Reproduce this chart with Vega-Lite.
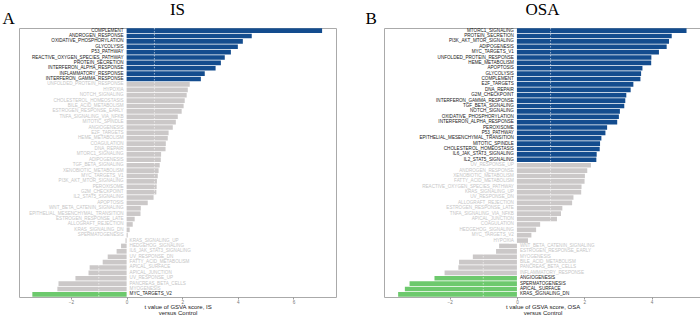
{
  "$schema": "https://vega.github.io/schema/vega-lite/v6.json",
  "padding": {"left": 2, "top": 0, "right": 0, "bottom": 0},
  "background": "white",
  "spacing": 28,
  "config": {
    "font": "Liberation Sans",
    "view": {"stroke": "#aaaaaa", "strokeWidth": 1},
    "title": {"font": "Liberation Serif", "fontSize": 17, "fontWeight": "normal", "color": "black", "offset": 8.5}
  },
  "datasets": {
    "IS": [
      {"name": "COMPLEMENT", "t": 7.03, "sig": "up"},
      {"name": "ANDROGEN_RESPONSE", "t": 4.5, "sig": "up"},
      {"name": "OXIDATIVE_PHOSPHORYLATION", "t": 4.18, "sig": "up"},
      {"name": "GLYCOLYSIS", "t": 4.0, "sig": "up"},
      {"name": "P53_PATHWAY", "t": 3.75, "sig": "up"},
      {"name": "REACTIVE_OXYGEN_SPECIES_PATHWAY", "t": 3.53, "sig": "up"},
      {"name": "PROTEIN_SECRETION", "t": 3.39, "sig": "up"},
      {"name": "INTERFERON_ALPHA_RESPONSE", "t": 3.2, "sig": "up"},
      {"name": "INFLAMMATORY_RESPONSE", "t": 2.81, "sig": "up"},
      {"name": "INTERFERON_GAMMA_RESPONSE", "t": 2.67, "sig": "up"},
      {"name": "UNFOLDED_PROTEIN_RESPONSE", "t": 2.27, "sig": "ns"},
      {"name": "HYPOXIA", "t": 2.2, "sig": "ns"},
      {"name": "NOTCH_SIGNALING", "t": 2.16, "sig": "ns"},
      {"name": "CHOLESTEROL_HOMEOSTASIS", "t": 2.09, "sig": "ns"},
      {"name": "BILE_ACID_METABOLISM", "t": 2.05, "sig": "ns"},
      {"name": "ESTROGEN_RESPONSE_EARLY", "t": 1.98, "sig": "ns"},
      {"name": "TNFA_SIGNALING_VIA_NFKB", "t": 1.84, "sig": "ns"},
      {"name": "MITOTIC_SPINDLE", "t": 1.77, "sig": "ns"},
      {"name": "ANGIOGENESIS", "t": 1.66, "sig": "ns"},
      {"name": "E2F_TARGETS", "t": 1.51, "sig": "ns"},
      {"name": "HEME_METABOLISM", "t": 1.48, "sig": "ns"},
      {"name": "COAGULATION", "t": 1.41, "sig": "ns"},
      {"name": "DNA_REPAIR", "t": 1.4, "sig": "ns"},
      {"name": "MTORC1_SIGNALING", "t": 1.24, "sig": "ns"},
      {"name": "ADIPOGENESIS", "t": 1.23, "sig": "ns"},
      {"name": "TGF_BETA_SIGNALING", "t": 1.19, "sig": "ns"},
      {"name": "XENOBIOTIC_METABOLISM", "t": 1.15, "sig": "ns"},
      {"name": "MYC_TARGETS_V1", "t": 1.12, "sig": "ns"},
      {"name": "PI3K_AKT_MTOR_SIGNALING", "t": 1.09, "sig": "ns"},
      {"name": "PEROXISOME", "t": 1.08, "sig": "ns"},
      {"name": "G2M_CHECKPOINT", "t": 1.07, "sig": "ns"},
      {"name": "IL2_STAT5_SIGNALING", "t": 0.97, "sig": "ns"},
      {"name": "APOPTOSIS", "t": 0.76, "sig": "ns"},
      {"name": "WNT_BETA_CATENIN_SIGNALING", "t": 0.51, "sig": "ns"},
      {"name": "EPITHELIAL_MESENCHYMAL_TRANSITION", "t": 0.5, "sig": "ns"},
      {"name": "ESTROGEN_RESPONSE_LATE", "t": 0.29, "sig": "ns"},
      {"name": "ALLOGRAFT_REJECTION", "t": 0.22, "sig": "ns"},
      {"name": "KRAS_SIGNALING_DN", "t": 0.11, "sig": "ns"},
      {"name": "SPERMATOGENESIS", "t": 0.04, "sig": "ns"},
      {"name": "KRAS_SIGNALING_UP", "t": -0.04, "sig": "ns"},
      {"name": "HEDGEHOG_SIGNALING", "t": -0.2, "sig": "ns"},
      {"name": "IL6_JAK_STAT3_SIGNALING", "t": -0.36, "sig": "ns"},
      {"name": "UV_RESPONSE_DN", "t": -0.68, "sig": "ns"},
      {"name": "FATTY_ACID_METABOLISM", "t": -0.86, "sig": "ns"},
      {"name": "APICAL_SURFACE", "t": -1.33, "sig": "ns"},
      {"name": "APICAL_JUNCTION", "t": -1.37, "sig": "ns"},
      {"name": "UV_RESPONSE_UP", "t": -1.84, "sig": "ns"},
      {"name": "PANCREAS_BETA_CELLS", "t": -2.45, "sig": "ns"},
      {"name": "MYOGENESIS", "t": -2.49, "sig": "ns"},
      {"name": "MYC_TARGETS_V2", "t": -3.39, "sig": "down"}
    ],
    "OSA": [
      {"name": "MTORC1_SIGNALING", "t": 5.04, "sig": "up"},
      {"name": "PROTEIN_SECRETION", "t": 4.6, "sig": "up"},
      {"name": "PI3K_AKT_MTOR_SIGNALING", "t": 4.52, "sig": "up"},
      {"name": "ADIPOGENESIS", "t": 4.45, "sig": "up"},
      {"name": "MYC_TARGETS_V1", "t": 4.22, "sig": "up"},
      {"name": "UNFOLDED_PROTEIN_RESPONSE", "t": 3.995, "sig": "up"},
      {"name": "HEME_METABOLISM", "t": 3.99, "sig": "up"},
      {"name": "APOPTOSIS", "t": 3.73, "sig": "up"},
      {"name": "GLYCOLYSIS", "t": 3.69, "sig": "up"},
      {"name": "COMPLEMENT", "t": 3.67, "sig": "up"},
      {"name": "E2F_TARGETS", "t": 3.46, "sig": "up"},
      {"name": "DNA_REPAIR", "t": 3.38, "sig": "up"},
      {"name": "G2M_CHECKPOINT", "t": 3.25, "sig": "up"},
      {"name": "INTERFERON_GAMMA_RESPONSE", "t": 3.22, "sig": "up"},
      {"name": "TGF_BETA_SIGNALING", "t": 3.19, "sig": "up"},
      {"name": "NOTCH_SIGNALING", "t": 3.06, "sig": "up"},
      {"name": "OXIDATIVE_PHOSPHORYLATION", "t": 3.03, "sig": "up"},
      {"name": "INTERFERON_ALPHA_RESPONSE", "t": 2.98, "sig": "up"},
      {"name": "PEROXISOME", "t": 2.68, "sig": "up"},
      {"name": "P53_PATHWAY", "t": 2.63, "sig": "up"},
      {"name": "EPITHELIAL_MESENCHYMAL_TRANSITION", "t": 2.51, "sig": "up"},
      {"name": "MITOTIC_SPINDLE", "t": 2.47, "sig": "up"},
      {"name": "CHOLESTEROL_HOMEOSTASIS", "t": 2.46, "sig": "up"},
      {"name": "IL6_JAK_STAT3_SIGNALING", "t": 2.37, "sig": "up"},
      {"name": "IL2_STAT5_SIGNALING", "t": 2.36, "sig": "up"},
      {"name": "UV_RESPONSE_UP", "t": 2.2, "sig": "ns"},
      {"name": "ANDROGEN_RESPONSE", "t": 2.09, "sig": "ns"},
      {"name": "XENOBIOTIC_METABOLISM", "t": 2.02, "sig": "ns"},
      {"name": "FATTY_ACID_METABOLISM", "t": 2.01, "sig": "ns"},
      {"name": "REACTIVE_OXYGEN_SPECIES_PATHWAY", "t": 1.92, "sig": "ns"},
      {"name": "KRAS_SIGNALING_UP", "t": 1.91, "sig": "ns"},
      {"name": "UV_RESPONSE_DN", "t": 1.68, "sig": "ns"},
      {"name": "ALLOGRAFT_REJECTION", "t": 1.64, "sig": "ns"},
      {"name": "ESTROGEN_RESPONSE_LATE", "t": 1.35, "sig": "ns"},
      {"name": "TNFA_SIGNALING_VIA_NFKB", "t": 1.31, "sig": "ns"},
      {"name": "APICAL_JUNCTION", "t": 1.19, "sig": "ns"},
      {"name": "COAGULATION", "t": 0.69, "sig": "ns"},
      {"name": "HEDGEHOG_SIGNALING", "t": 0.57, "sig": "ns"},
      {"name": "MYC_TARGETS_V2", "t": 0.43, "sig": "ns"},
      {"name": "HYPOXIA", "t": 0.33, "sig": "ns"},
      {"name": "WNT_BETA_CATENIN_SIGNALING", "t": -0.53, "sig": "ns"},
      {"name": "ESTROGEN_RESPONSE_EARLY", "t": -0.62, "sig": "ns"},
      {"name": "MYOGENESIS", "t": -1.31, "sig": "ns"},
      {"name": "BILE_ACID_METABOLISM", "t": -1.72, "sig": "ns"},
      {"name": "PANCREAS_BETA_CELLS", "t": -1.74, "sig": "ns"},
      {"name": "INFLAMMATORY_RESPONSE", "t": -2.15, "sig": "ns"},
      {"name": "ANGIOGENESIS", "t": -2.45, "sig": "down"},
      {"name": "SPERMATOGENESIS", "t": -3.19, "sig": "down"},
      {"name": "APICAL_SURFACE", "t": -3.33, "sig": "down"},
      {"name": "KRAS_SIGNALING_DN", "t": -3.53, "sig": "down"}
    ],
    "thresholds": [{"v": -1}, {"v": 1}]
  },
  "hconcat": [
    {
      "title": {"text": "A", "anchor": "start", "dx": -16, "dy": 27, "offset": 0},
      "hconcat": [
        {
          "width": 317,
          "height": 269,
          "title": "IS",
          "data": {"name": "IS"},
          "encoding": {
            "y": {"field": "name", "type": "nominal", "sort": null,
              "scale": {"paddingInner": 0.14, "paddingOuter": 0.05}, "axis": null}
          },
          "layer": [
            {
              "mark": {"type": "bar"},
              "encoding": {
                "x": {
                  "field": "t", "type": "quantitative",
                  "scale": {"domain": [-3.87, 7.53], "nice": false, "zero": false},
                  "axis": {"values": [-2, 0, 2, 4, 6], "grid": false, "domain": false, "tickSize": 2, "tickColor": "#999999",
                    "labelFontSize": 4.6, "labelColor": "#777777", "labelPadding": 0,
                    "title": ["t value of GSVA score, IS", "versus Control"], "titleFontSize": 6, "titleFontWeight": "normal",
                    "titleColor": "#222222", "titleY": 6, "titleBaseline": "top", "titleLineHeight": 6.6}
                },
                "color": {"field": "sig", "type": "nominal",
                  "scale": {"domain": ["up", "down", "ns"], "range": ["#134c8e", "#6dc96d", "#cbc8c8"]}, "legend": null}
              }
            },
            {
              "data": {"name": "thresholds"},
              "mark": {"type": "rule", "color": "white", "strokeDash": [1.5, 1.5], "opacity": 0.55, "strokeWidth": 1},
              "encoding": {"x": {"field": "v", "type": "quantitative"}, "y": null}
            },
            {
              "mark": {"type": "text", "align": "right", "baseline": "middle", "dx": -3, "fontSize": 4.6},
              "encoding": {
                "x": {"datum": 0},
                "text": {"condition": {"test": "datum.t >= 0", "field": "name"}, "value": ""},
                "color": {"condition": {"test": "datum.sig == 'ns'", "value": "#c6c6c6"}, "value": "#1a1a1a"}
              }
            },
            {
              "mark": {"type": "text", "align": "left", "baseline": "middle", "dx": 3, "fontSize": 4.6},
              "encoding": {
                "x": {"datum": 0},
                "text": {"condition": {"test": "datum.t < 0", "field": "name"}, "value": ""},
                "color": {"condition": {"test": "datum.sig == 'ns'", "value": "#c6c6c6"}, "value": "#1a1a1a"}
              }
            }
          ]
        }
      ]
    },
    {
      "title": {"text": "B", "anchor": "start", "dx": -18, "dy": 27, "offset": 0},
      "hconcat": [
        {
          "width": 317,
          "height": 269,
          "title": "OSA",
          "data": {"name": "OSA"},
          "encoding": {
            "y": {"field": "name", "type": "nominal", "sort": null,
              "scale": {"paddingInner": 0.14, "paddingOuter": 0.05}, "axis": null}
          },
          "layer": [
            {
              "mark": {"type": "bar"},
              "encoding": {
                "x": {
                  "field": "t", "type": "quantitative",
                  "scale": {"domain": [-3.95, 5.47], "nice": false, "zero": false},
                  "axis": {"values": [-2, 0, 2, 4], "grid": false, "domain": false, "tickSize": 2, "tickColor": "#999999",
                    "labelFontSize": 4.6, "labelColor": "#777777", "labelPadding": 0,
                    "title": ["t value of GSVA score, OSA", "versus Control"], "titleFontSize": 6, "titleFontWeight": "normal",
                    "titleColor": "#222222", "titleY": 6, "titleBaseline": "top", "titleLineHeight": 6.6}
                },
                "color": {"field": "sig", "type": "nominal",
                  "scale": {"domain": ["up", "down", "ns"], "range": ["#134c8e", "#6dc96d", "#cbc8c8"]}, "legend": null}
              }
            },
            {
              "data": {"name": "thresholds"},
              "mark": {"type": "rule", "color": "white", "strokeDash": [1.5, 1.5], "opacity": 0.55, "strokeWidth": 1},
              "encoding": {"x": {"field": "v", "type": "quantitative"}, "y": null}
            },
            {
              "mark": {"type": "text", "align": "right", "baseline": "middle", "dx": -3, "fontSize": 4.6},
              "encoding": {
                "x": {"datum": 0},
                "text": {"condition": {"test": "datum.t >= 0", "field": "name"}, "value": ""},
                "color": {"condition": {"test": "datum.sig == 'ns'", "value": "#c6c6c6"}, "value": "#1a1a1a"}
              }
            },
            {
              "mark": {"type": "text", "align": "left", "baseline": "middle", "dx": 3, "fontSize": 4.6},
              "encoding": {
                "x": {"datum": 0},
                "text": {"condition": {"test": "datum.t < 0", "field": "name"}, "value": ""},
                "color": {"condition": {"test": "datum.sig == 'ns'", "value": "#c6c6c6"}, "value": "#1a1a1a"}
              }
            }
          ]
        }
      ]
    }
  ]
}
